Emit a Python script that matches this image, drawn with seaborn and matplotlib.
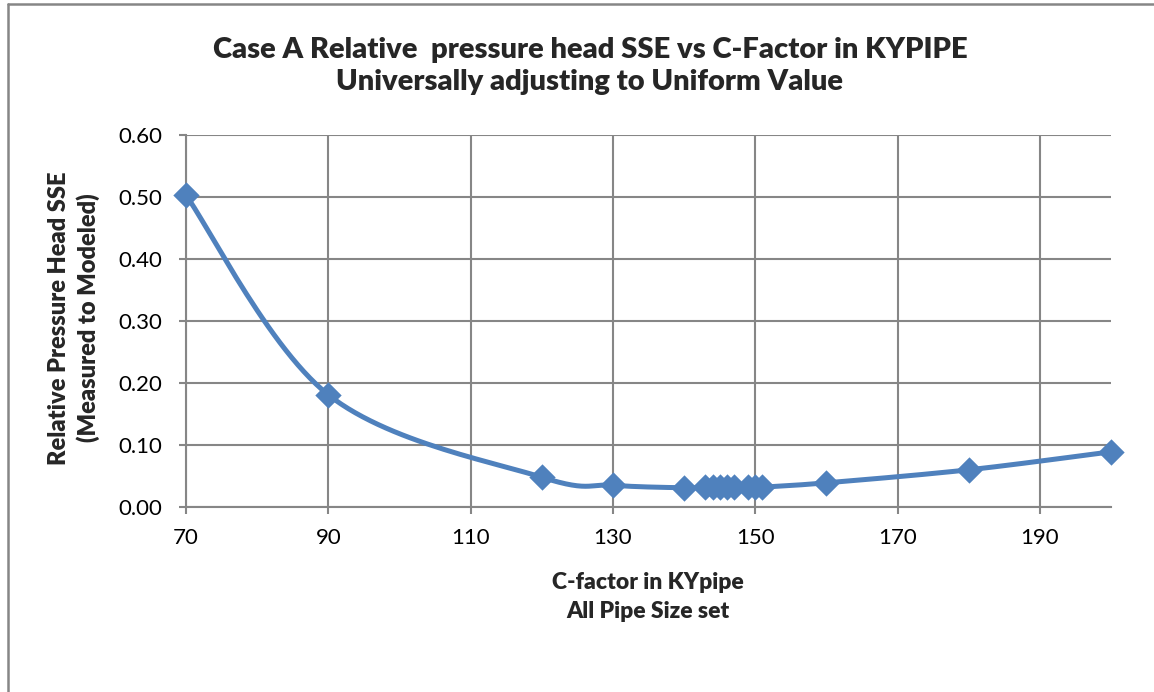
import numpy as np
import pandas as pd
import matplotlib
matplotlib.use("Agg")
import matplotlib.pyplot as plt
from matplotlib.lines import Line2D
import seaborn as sns

c_factor = [70, 90, 120, 130, 140, 143, 144, 145, 146, 147, 149, 150, 151, 160, 180, 200]
sse = [0.503, 0.181, 0.048, 0.035, 0.031, 0.032, 0.032, 0.032, 0.032, 0.032,
       0.032, 0.032, 0.032, 0.039, 0.060, 0.089]
x_ticks = [70, 90, 110, 130, 150, 170, 190]
y_ticks = [0.0, 0.1, 0.2, 0.3, 0.4, 0.5, 0.6]

title = "Case A Relative  pressure head SSE vs C-Factor in KYPIPE\nUniversally adjusting to Uniform Value"
xlabel = "C-factor in KYpipe\nAll Pipe Size set"
ylabel = "Relative Pressure Head SSE\n(Measured to Modeled)"

df = pd.DataFrame({"C": c_factor, "SSE": sse})

sns.set_theme(style="white")
plt.rcParams['font.family'] = ['Lato', 'DejaVu Sans']

BLUE = "#4F81BD"
GRID = "#868686"

fig = plt.figure(figsize=(11.54, 6.92), dpi=100)
ax = fig.add_axes([186/1154, 1-507/692, (1111-186)/1154, (507-135)/692])


def smooth(x, y, n=30):
    # Excel-style smoothed line: Bezier segments with Catmull-Rom tangents
    x = np.asarray(x, float)
    y = np.asarray(y, float)
    xs = (x - 70) / 130.0
    ys = y / 0.6 * (372 / 925)
    P = np.column_stack([xs, ys])
    out = []
    for i in range(len(P) - 1):
        p0 = P[i - 1] if i > 0 else P[i]
        p1 = P[i]
        p2 = P[i + 1]
        p3 = P[i + 2] if i + 2 < len(P) else P[i + 1]
        c1 = p1 + (p2 - p0) / 6.0
        c2 = p2 - (p3 - p1) / 6.0
        t = np.linspace(0, 1, n)[:, None]
        seg = ((1 - t) ** 3) * p1 + 3 * ((1 - t) ** 2) * t * c1 + 3 * (1 - t) * t ** 2 * c2 + t ** 3 * p2
        out.append(seg if i == 0 else seg[1:])
    S = np.vstack(out)
    return S[:, 0] * 130.0 + 70, S[:, 1] * 0.6 / (372 / 925)


sx, sy = smooth(c_factor, sse)
ax.plot(sx, sy, color=BLUE, lw=3.6, solid_capstyle="round", zorder=3)
sns.scatterplot(data=df, x="C", y="SSE", ax=ax, marker="D", s=180, color=BLUE,
                edgecolor=BLUE, linewidth=0, zorder=4, clip_on=False)

ax.set_xlim(70, 200)
ax.set_ylim(0, 0.6)
ax.set_xticks(x_ticks)
ax.set_yticks(y_ticks)
ax.set_yticklabels([f"{v:.2f}" for v in y_ticks])
ax.grid(True, color=GRID, lw=1.5)
ax.set_axisbelow(True)
for s in ["top", "right"]:
    ax.spines[s].set_visible(False)
for s in ["left", "bottom"]:
    ax.spines[s].set_color(GRID)
    ax.spines[s].set_linewidth(1.5)
ax.tick_params(axis="both", which="major", direction="out", length=5, width=1.5,
               color=GRID, labelsize=16, bottom=True, left=True)
ax.tick_params(axis="y", pad=12)
ax.tick_params(axis="x", pad=10)
for lab in ax.get_xticklabels() + ax.get_yticklabels():
    lab.set_color("black")
ax.set_xlabel("")
ax.set_ylabel("")

fig.text(648/1154, 1-597/692, xlabel, ha="center", va="center", fontsize=16.5,
         fontweight="heavy", linespacing=1.5)
fig.text(74/1154, 1-318/692, ylabel, ha="center", va="center", fontsize=17,
         fontweight="heavy", linespacing=1.35, rotation=90)
fig.text(590/1154, 1-66/692, title, ha="center", va="center", fontsize=21,
         fontweight="heavy", linespacing=1.3)

fig.add_artist(Line2D([8/1154, 8/1154], [0, 1-4/692], color="#868686", lw=1.8,
                      transform=fig.transFigure))
fig.add_artist(Line2D([8/1154, 1], [1-4/692, 1-4/692], color="#868686", lw=1.8,
                      transform=fig.transFigure))

fig.savefig("out.png", dpi=100, facecolor="white")
